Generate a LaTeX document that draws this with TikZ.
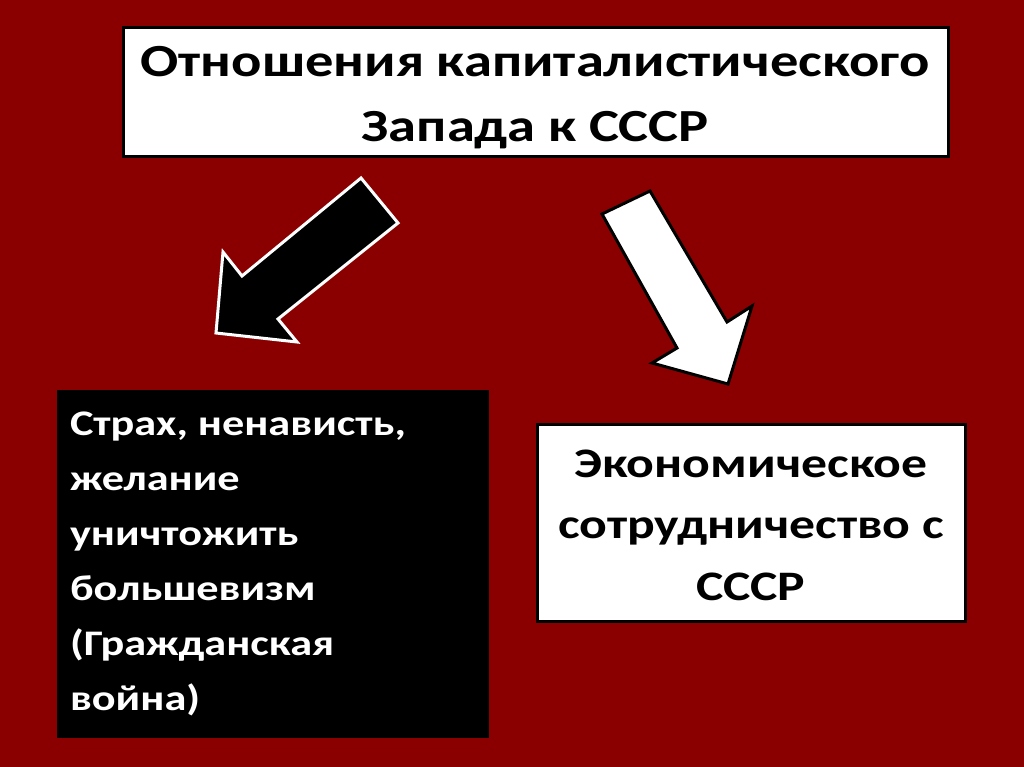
\documentclass[tikz,border=0pt]{standalone}
\usepackage{fontspec}
\setmainfont{Carlito}[FakeStretch=1.23]
\definecolor{bgred}{RGB}{138,0,0}
\tikzset{
  whitebox/.style={draw=black, fill=white, line width=3pt},
  blackbox/.style={fill=black},
  txt/.style={inner sep=0pt, outer sep=0pt},
}
\begin{document}
\begin{tikzpicture}[x=1pt,y=-1pt]
\fill[bgred] (0,0) rectangle (1024,767);
\useasboundingbox (0,0) rectangle (1024,767);
% boxes
\draw[whitebox] (123,28) rectangle (948,157);
\fill[blackbox] (57,390) rectangle (489,738);
\draw[whitebox] (537,424) rectangle (965,621);
% arrows
\filldraw[fill=black, draw=white, line width=3pt, line join=miter]
  (361,178) -- (398,223) -- (278,319) -- (297,342) -- (216,333) -- (223,252) -- (242,276) -- cycle;
\filldraw[fill=white, draw=black, line width=3pt, line join=miter]
  (602,214) -- (650,191) -- (727,322) -- (752,306) -- (728,384) -- (652,363) -- (677,348) -- cycle;
% texts (base anchor = baseline of last line)
\node[txt, anchor=base, align=center, text=black,
      font=\fontsize{46}{65}\selectfont\bfseries] (top) at (535,142)
  {Отношения капиталистического\\Запада к СССР};
\node[txt, anchor=base west, align=left, text=white,
      font=\fontsize{36}{55}\selectfont\bfseries] (left) at (70,710)
  {Страх, ненависть,\\желание\\уничтожить\\большевизм\\(Гражданская\\война)};
\node[txt, anchor=base, align=center, text=black,
      font=\fontsize{42}{61.5}\selectfont\bfseries] (right) at (751,600)
  {Экономическое\\сотрудничество с\\СССР};
\end{tikzpicture}
\end{document}
